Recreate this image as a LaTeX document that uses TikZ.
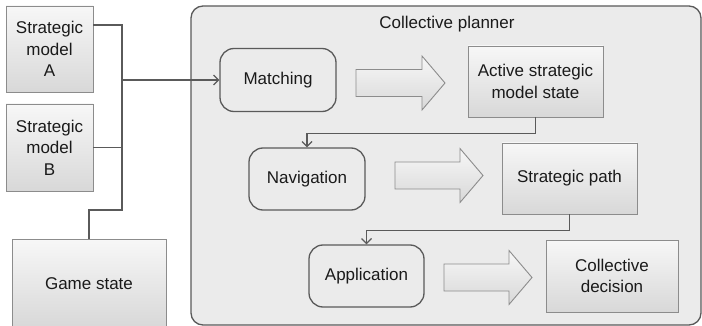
\documentclass[tikz,border=0pt]{standalone}
\usepackage{fontspec}
\setmainfont{Liberation Sans}
\usetikzlibrary{arrows.meta,calc}
\definecolor{lineg}{HTML}{5A5A5A}
\definecolor{boxg}{HTML}{8C8C8C}
\definecolor{panel}{HTML}{EBEBEB}
\definecolor{txt}{HTML}{1A1A1A}
\definecolor{gtop}{HTML}{F7F7F7}
\definecolor{gbot}{HTML}{D8D8D8}
\tikzset{
  gradbox/.style={draw=boxg, line width=0.9pt, top color=gtop, bottom color=gbot,
    inner sep=0pt, align=center, text=txt, font=\fontsize{17}{21.5}\selectfont},
  procbox/.style={draw=lineg, line width=1.3pt, fill=panel, rounded corners=14pt,
    inner sep=0pt, align=center, text=txt, font=\fontsize{17}{21.5}\selectfont},
  conn/.style={draw=lineg, line width=1.4pt},
  connarrow/.style={conn, -{Straight Barb[length=5pt,width=10pt,line width=1.2pt]}},
  blockarrow/.style={draw=boxg, line width=0.9pt, top color=gtop, bottom color=gbot}
}
\newcommand{\blockarr}[3]{%
  \path[blockarrow] (#1,#3-13.5) -- (#2-23,#3-13.5) -- (#2-23,#3-27) -- (#2,#3)
    -- (#2-23,#3+27) -- (#2-23,#3+13.5) -- (#1,#3+13.5) -- cycle;}
\begin{document}
\begin{tikzpicture}[x=1pt,y=-1pt]
\useasboundingbox (0,0) rectangle (702,326);
\fill[white] (0,0) rectangle (702,326);
% panel
\node[draw=lineg, line width=1.3pt, fill=panel, rounded corners=12pt, minimum width=510pt,
  minimum height=319pt, inner sep=0pt] (panel) at (446,165.5) {};
\node[text=txt, font=\fontsize{17}{21.5}\selectfont] (title) at (447,24) {Collective planner};
% left boxes
\node[gradbox, minimum width=87pt, minimum height=86pt] (A) at (49.5,49) {Strategic\\model\\A};
\node[gradbox, minimum width=87pt, minimum height=87pt] (B) at (49.5,147.5) {Strategic\\model\\B};
\node[gradbox, minimum width=154pt, minimum height=88pt] (G) at (89,283.5) {Game state};
% bus
\coordinate (busTop) at (122,25);
\coordinate (busBot) at (122,210);
\draw[conn] (A.north east |- busTop) -- (busTop) -- (busBot) -| (G.north);
\draw[conn] (B.east) -- (B.east -| busTop);
% process nodes
\node[procbox, minimum width=116pt, minimum height=63pt] (M) at (278,80) {Matching};
\node[procbox, minimum width=116pt, minimum height=62pt] (N) at (307,179) {Navigation};
\node[procbox, minimum width=115pt, minimum height=62pt] (P) at (366.5,276) {Application};
% result boxes
\node[gradbox, minimum width=135pt, minimum height=71pt] (S) at (535.5,81.5) {Active strategic\\model state};
\node[gradbox, minimum width=135pt, minimum height=71pt] (T) at (569.5,178.5) {Strategic path};
\node[gradbox, minimum width=132pt, minimum height=72pt] (D) at (612,276) {Collective\\decision};
% connectors
\draw[connarrow] (busTop |- M.west) -- (M.west);
\draw[connarrow] (S.south) -- ++(0,16) -| (N.north);
\draw[connarrow] (T.south) -- ++(0,16) -| (P.north);
% block arrows
\blockarr{356}{445}{83}
\blockarr{395}{483}{175.5}
\blockarr{444}{532}{277.5}
\end{tikzpicture}
\end{document}
